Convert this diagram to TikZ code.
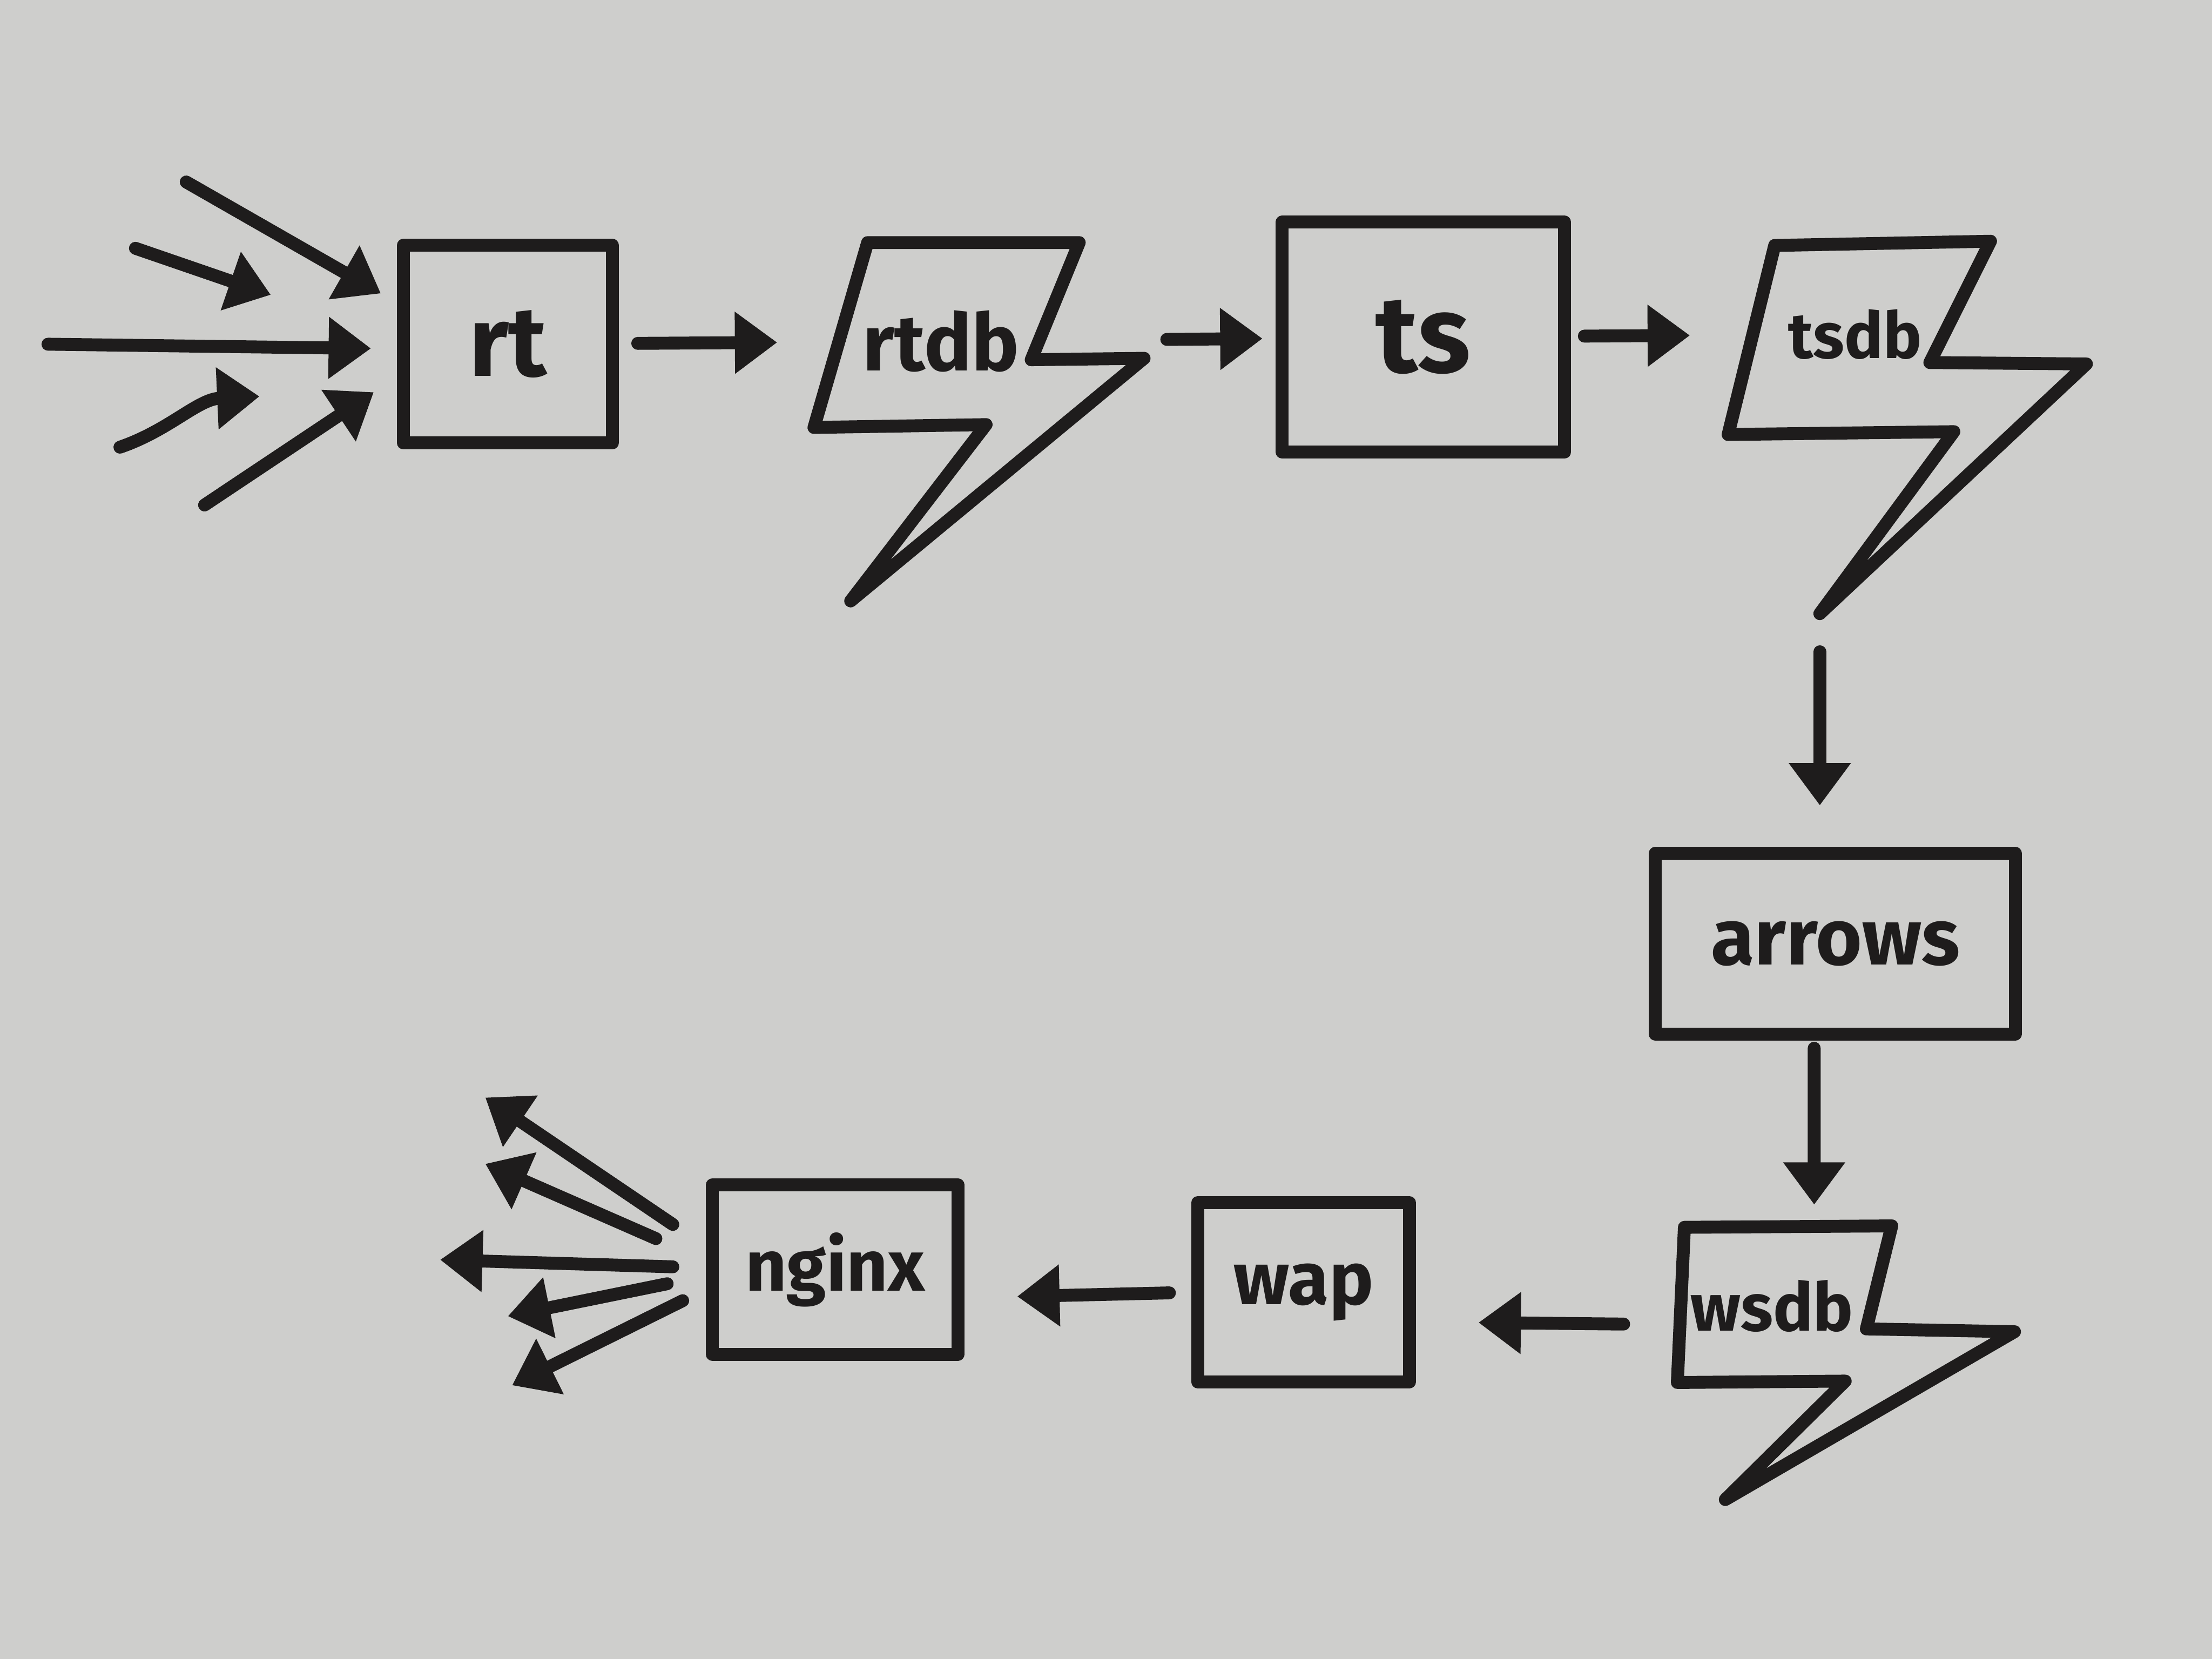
\documentclass[tikz,border=0pt]{standalone}
\usepackage{fontspec}
\setmainfont{Fira Sans}
\usetikzlibrary{arrows.meta, calc}

\definecolor{paper}{RGB}{206,206,204}
\definecolor{ink}{RGB}{30,28,28}
\newcommand\inksize[1]{\fontsize{#1}{#1}\selectfont\bfseries}

\begin{document}
\begin{tikzpicture}[x=0.01cm, y=-0.01cm,
    pen/.style={draw=ink, line width=2.6pt, line join=round, line cap=round},
    box/.style={pen, rectangle, inner sep=0pt, outer sep=0pt, text=ink},
    store/.style={rectangle, inner sep=0pt, outer sep=0pt, text=ink},
    flow/.style={pen, -{Triangle[length=3mm, width=4.2mm, fill=ink]}}]

  % Paper
  \fill[paper] (0,0) rectangle (1568,1176);

  % Storage outlines (lightning shapes)
  \draw[pen] (615,172) -- (765,172) -- (731,255) -- (811,254)
    -- (603,426) -- (699,301) -- (577,303) -- cycle;
  \draw[pen] (1258,174) -- (1411,171) -- (1368,257) -- (1479,258)
    -- (1290,435) -- (1385,306) -- (1225,308) -- cycle;
  \draw[pen] (1194,870) -- (1341,869) -- (1323,942) -- (1428,944)
    -- (1223,1063) -- (1308,979) -- (1189,980) -- cycle;
  \coordinate (tsdbtip) at (1290,435);

  % Stores
  \node[store, minimum width=1.44cm, minimum height=1.3cm, font=\inksize{16}] (rtdb) at (667,242) {rtdb};
  \node[store, minimum width=1.46cm, minimum height=1.3cm, font=\inksize{13}] (tsdb) at (1315,237) {tsdb};
  \node[store, minimum width=1.28cm, minimum height=1.12cm, font=\inksize{13.5}] (wsdb) at (1256,926) {wsdb};

  % Processes
  \node[box, minimum width=1.48cm, minimum height=1.40cm, font=\inksize{20}] (rt) at (360,244) {rt};
  \node[box, minimum width=2.00cm, minimum height=1.63cm, font=\inksize{22}] (ts) at (1009,239) {ts};
  \node[box, minimum width=2.55cm, minimum height=1.28cm, font=\inksize{16}] (arrows) at (1301,669) {arrows};
  \node[box, minimum width=1.50cm, minimum height=1.27cm, font=\inksize{15}] (wap) at (924,916) {wap};
  \node[box, minimum width=1.74cm, minimum height=1.20cm, font=\inksize{14.5}] (nginx) at (592,900) {nginx};

  % Incoming traffic
  \foreach \sx/\sy/\dx/\dy in {132/129/-16/-36, 96/176/-94/-35, 34/244/-23/3, 145/358/-21/34}
    \draw[flow] (\sx,\sy) -- ([shift={(\dx,\dy)}]rt.west);
  \draw[flow] (85,317) .. controls (120,305) and (140,283) .. ([shift={(-102,37)}]rt.west);

  % Pipeline
  \draw[flow, shorten <=1.8mm, shorten >=4.4mm] (rt) -- (rtdb);
  \draw[flow, shorten <=8.8mm, shorten >=1.4mm] (rtdb) -- (ts);
  \draw[flow, shorten <=1.4mm, shorten >=4.4mm] (ts) -- (tsdb);
  \draw[flow, shorten <=2.7mm, shorten >=3.4mm] (tsdbtip) -- (tsdbtip |- arrows.north);
  \draw[flow, shorten <=1mm, shorten >=1.6mm] ([xshift=-1.5mm]arrows.south) -- ([xshift=3mm]wsdb.north);
  \draw[flow, shorten <=4.1mm, shorten >=4.9mm] ([yshift=-1.3mm]wsdb.west) -- ([yshift=-2.1mm]wap.east);
  \draw[flow, shorten <=2mm, shorten >=4.2mm] (wap.west) -- ([yshift=-2mm]nginx.east);

  % Outgoing traffic
  \foreach \dx/\dy/\tx/\ty in {-28/-32/344/778, -40/-22/344/825, -28/-2/312/893, -32/10/360/933, -21/22/363/982}
    \draw[flow] ([shift={(\dx,\dy)}]nginx.west) -- (\tx,\ty);
\end{tikzpicture}
\end{document}
